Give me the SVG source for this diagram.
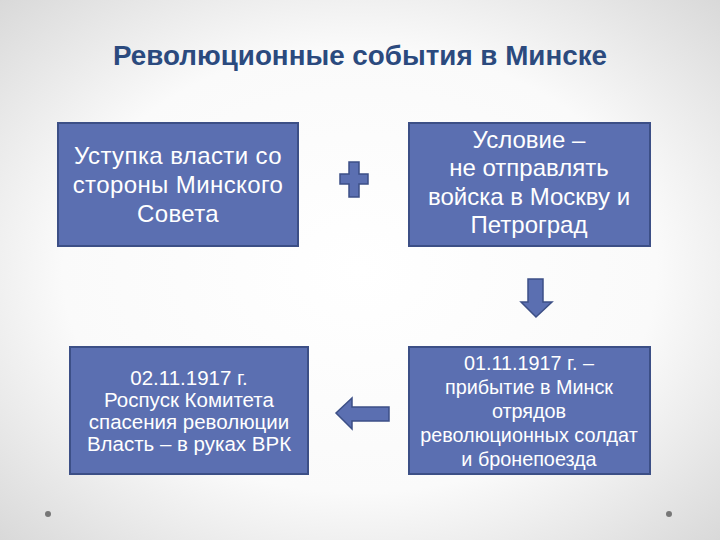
<svg xmlns="http://www.w3.org/2000/svg" width="720" height="540" viewBox="0 0 720 540">
<defs>
<radialGradient id="bg" cx="0.5" cy="0.5" r="0.75">
<stop offset="0" stop-color="#ffffff"/>
<stop offset="0.55" stop-color="#fafafa"/>
<stop offset="1" stop-color="#d4d4d4"/>
</radialGradient>
<style>
.box{fill:#5b6fb1;stroke:#3c4f86;stroke-width:2}
.t{font-family:"Liberation Sans",Arial,sans-serif;fill:#ffffff;text-anchor:middle}
.shape{fill:#5b6fb1;stroke:#3c4f86;stroke-width:1.5}
</style>
</defs>
<rect x="0" y="0" width="720" height="540" fill="url(#bg)"/>
<text x="360" y="65" font-family="'Liberation Sans',Arial,sans-serif" font-size="27" font-weight="bold" fill="#2b4a7e" text-anchor="middle" textLength="494" lengthAdjust="spacingAndGlyphs">Революционные события в Минске</text>
<g id="node1">
<rect class="box" x="58" y="123" width="240" height="123"/>
<text class="t" font-size="24" letter-spacing="0.4"><tspan x="178" y="164">Уступка власти со</tspan><tspan x="178" y="193">стороны Минского</tspan><tspan x="178" y="222">Совета</tspan></text>
</g>
<g id="node2">
<rect class="box" x="409" y="123" width="241" height="123"/>
<text class="t" font-size="24"><tspan x="529" y="148">Условие –</tspan><tspan x="529" y="176">не отправлять</tspan><tspan x="529" y="205">войска в Москву и</tspan><tspan x="529" y="233">Петроград</tspan></text>
</g>
<g id="node3">
<rect class="box" x="70" y="347" width="238" height="127"/>
<text class="t" font-size="20.5"><tspan x="189" y="385">02.11.1917 г.</tspan><tspan x="189" y="407">Роспуск  Комитета</tspan><tspan x="189" y="429">спасения революции</tspan><tspan x="189" y="451">Власть – в руках ВРК</tspan></text>
</g>
<g id="node4">
<rect class="box" x="409" y="347" width="241" height="127"/>
<text class="t" font-size="19.8"><tspan x="529" y="370">01.11.1917 г. –</tspan><tspan x="529" y="394">прибытие в Минск</tspan><tspan x="529" y="418">отрядов</tspan><tspan x="529" y="442">революционных солдат</tspan><tspan x="529" y="466">и бронепоезда</tspan></text>
</g>
<g id="connectors">
<path class="shape" d="M349 162 H359 V174 H368 V184 H359 V197 H349 V184 H340 V174 H349 Z"/>
<path class="shape" d="M528 279 H543 V302 H552 L536 317 L521 302 H528 Z"/>
<path class="shape" d="M389 407 H352 V398 L336 413 L352 429 V421 H389 Z"/>
</g>
<circle cx="48" cy="514" r="3" fill="#777"/>
<circle cx="669" cy="514" r="3" fill="#777"/>
</svg>
